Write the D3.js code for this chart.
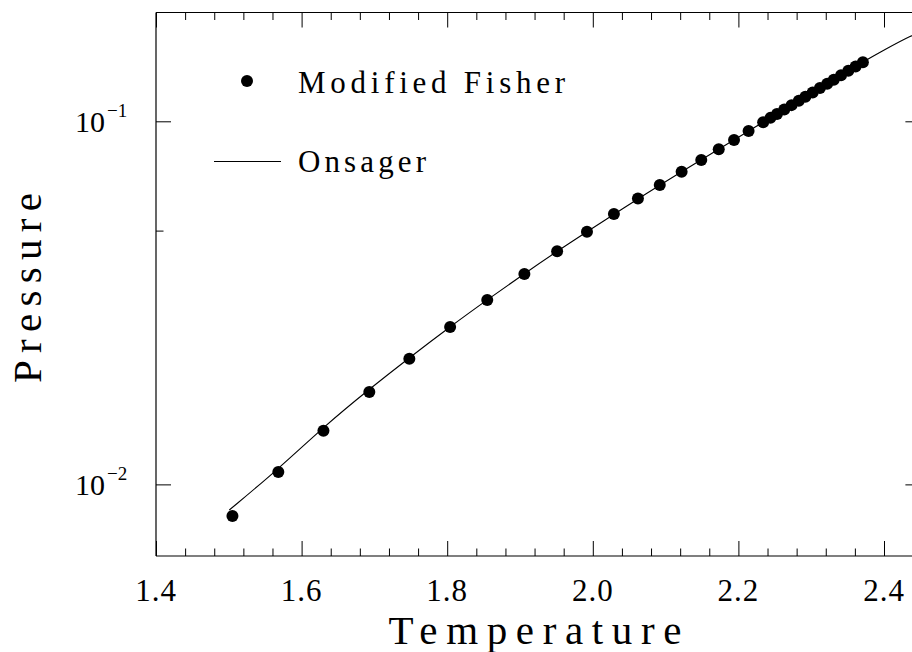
<!DOCTYPE html>
<html>
<head>
<meta charset="utf-8">
<script src="https://cdn.jsdelivr.net/npm/d3@7"></script>
<style>
  html, body { margin: 0; padding: 0; background: #fff; }
  svg { display: block; }
  text { font-family: "Liberation Serif", "DejaVu Serif", serif; fill: #000; }
</style>
</head>
<body>
<svg id="chart" width="912" height="652"></svg>
<script>
// Modified Fisher estimates (temperature, pressure)
const fisherT = [1.505, 1.568, 1.630, 1.693, 1.748, 1.804, 1.855, 1.906, 1.951, 1.992,
  2.029, 2.062, 2.092, 2.122, 2.149, 2.173, 2.194, 2.214,
  2.234, 2.244, 2.253, 2.263, 2.273, 2.283, 2.292, 2.302, 2.312, 2.322,
  2.331, 2.341, 2.351, 2.361, 2.371];
const fisherP = [0.00818, 0.01081, 0.01405, 0.01796, 0.02218, 0.02712, 0.03219, 0.03797, 0.04384, 0.04963,
  0.05555, 0.06127, 0.06676, 0.07263, 0.07818, 0.08373, 0.08882, 0.09403,
  0.0994, 0.1022, 0.1048, 0.1077, 0.1108, 0.1139, 0.1168, 0.1201, 0.1235, 0.1269,
  0.1302, 0.1339, 0.1377, 0.1415, 0.1455];

// Onsager exact curve
const onsagerT = [1.5007, 1.5676, 1.6304, 1.6926, 1.7482, 1.8043, 1.8551, 1.9055, 1.9508, 1.9920,
  2.0621, 2.1218, 2.1727, 2.2140, 2.2530, 2.3020, 2.3510, 2.3707, 2.4000, 2.4385, 2.46];
const onsagerP = [0.00850, 0.01100, 0.01441, 0.01827, 0.02235, 0.02721, 0.03225, 0.03800, 0.04384, 0.04963,
  0.0612, 0.0726, 0.0837, 0.0940, 0.1048, 0.1201, 0.1377, 0.1455, 0.1571, 0.1729, 0.1790];

// Axis ticks and labels
const xMajorTicks = [1.4, 1.6, 1.8, 2.0, 2.2, 2.4];
const xTickLabels = ["1.4", "1.6", "1.8", "2.0", "2.2", "2.4"];
const xMinorTicks = [1.44, 1.48, 1.52, 1.56, 1.64, 1.68, 1.72, 1.76, 1.84, 1.88, 1.92, 1.96,
  2.04, 2.08, 2.12, 2.16, 2.24, 2.28, 2.32, 2.36, 2.44];
const yMajorTicks = [0.01, 0.1];
const yTickExponents = ["\u22122", "\u22121"];
const yMinorTicks = [0.05];

const legendLabels = ["Modified Fisher", "Onsager"];
const xTitle = "Temperature";
const yTitle = "Pressure";

const svg = d3.select("#chart");
const plotLeft = 156, plotRight = 920.4, plotTop = 12, plotBottom = 556;

const x = d3.scaleLinear().domain([1.4, 2.45]).range([plotLeft, plotRight]);
const y = d3.scaleLog().domain([0.00635, 0.2]).range([plotBottom, plotTop]);

// frame
const frame = svg.append("g").attr("stroke", "#000").attr("fill", "none");
frame.append("line").attr("x1", plotLeft).attr("x2", plotLeft).attr("y1", plotTop + 0.5).attr("y2", plotBottom).attr("stroke-width", 1.2);
frame.append("line").attr("x1", plotLeft).attr("x2", plotRight).attr("y1", plotBottom).attr("y2", plotBottom).attr("stroke-width", 1.2);
frame.append("line").attr("x1", plotLeft).attr("x2", plotRight).attr("y1", plotTop + 0.5).attr("y2", plotTop + 0.5);
frame.append("line").attr("x1", plotRight).attr("x2", plotRight).attr("y1", plotTop).attr("y2", plotBottom);

// tick marks via d3 axes (domain paths removed)
function ticks(axis, tr) {
  const g = svg.append("g").attr("transform", tr).call(axis);
  g.select(".domain").remove();
  g.selectAll(".tick line").attr("stroke", "#000").attr("stroke-width", 1);
  g.selectAll(".tick text").remove();
  return g;
}
ticks(d3.axisBottom(x).tickValues(xMajorTicks).tickSize(-15).tickFormat(""), `translate(0,${plotBottom})`);
ticks(d3.axisBottom(x).tickValues(xMinorTicks).tickSize(-7.5).tickFormat(""), `translate(0,${plotBottom})`);
ticks(d3.axisTop(x).tickValues(xMajorTicks).tickSize(-15).tickFormat(""), `translate(0,${plotTop + 0.5})`);
ticks(d3.axisTop(x).tickValues(xMinorTicks).tickSize(-7.5).tickFormat(""), `translate(0,${plotTop + 0.5})`);
ticks(d3.axisLeft(y).tickValues(yMajorTicks).tickSize(-15).tickFormat(""), `translate(${plotLeft},0)`);
ticks(d3.axisLeft(y).tickValues(yMinorTicks).tickSize(-7.5).tickFormat(""), `translate(${plotLeft},0)`);
ticks(d3.axisRight(y).tickValues(yMajorTicks).tickSize(-15).tickFormat(""), `translate(${plotRight},0)`);
ticks(d3.axisRight(y).tickValues(yMinorTicks).tickSize(-7.5).tickFormat(""), `translate(${plotRight},0)`);

// x tick labels
svg.append("g").selectAll("text").data(xMajorTicks).join("text")
  .attr("x", d => x(d))
  .attr("y", 601)
  .attr("text-anchor", "middle")
  .attr("font-size", 31)
  .attr("letter-spacing", 1)
  .text((d, i) => xTickLabels[i]);

// y tick labels: 10 with superscript exponent
const yl = svg.append("g").selectAll("text").data(yMajorTicks).join("text")
  .attr("x", 75)
  .attr("y", d => y(d) + 11)
  .attr("font-size", 30);
yl.append("tspan").text("10");
yl.append("tspan").attr("dx", 2).attr("dy", -15).attr("font-size", 19).text((d, i) => yTickExponents[i]);

// axis titles
svg.append("text")
  .attr("x", 535).attr("y", 644)
  .attr("text-anchor", "middle")
  .attr("font-size", 41)
  .attr("textLength", 293).attr("lengthAdjust", "spacing")
  .text(xTitle);
svg.append("text")
  .attr("transform", "translate(41,288) rotate(-90)")
  .attr("text-anchor", "middle")
  .attr("font-size", 41)
  .attr("textLength", 190).attr("lengthAdjust", "spacing")
  .text(yTitle);

// plot contents clipped to the frame
svg.append("clipPath").attr("id", "plotclip")
  .append("rect").attr("x", plotLeft).attr("y", plotTop).attr("width", plotRight - plotLeft).attr("height", plotBottom - plotTop);
const plot = svg.append("g").attr("clip-path", "url(#plotclip)");

const onsager = onsagerT.map((t, i) => [t, onsagerP[i]]);
plot.append("path")
  .datum(onsager)
  .attr("fill", "none")
  .attr("stroke", "#000")
  .attr("stroke-width", 1.1)
  .attr("d", d3.line().x(d => x(d[0])).y(d => y(d[1])).curve(d3.curveBasis));

const fisher = fisherT.map((t, i) => [t, fisherP[i]]);
plot.append("g").selectAll("circle").data(fisher).join("circle")
  .attr("cx", d => x(d[0]))
  .attr("cy", d => y(d[1]))
  .attr("r", 6)
  .attr("fill", "#000");

// legend
const legend = svg.append("g");
legend.append("circle").attr("cx", 247).attr("cy", 81).attr("r", 6).attr("fill", "#000");
legend.append("line").attr("x1", 214).attr("x2", 281).attr("y1", 161.5).attr("y2", 161.5)
  .attr("stroke", "#000").attr("stroke-width", 1.1);
legend.append("text").attr("x", 298).attr("y", 93).attr("font-size", 31)
  .attr("textLength", 267).attr("lengthAdjust", "spacing").text(legendLabels[0]);
legend.append("text").attr("x", 298).attr("y", 172).attr("font-size", 31)
  .attr("textLength", 128).attr("lengthAdjust", "spacing").text(legendLabels[1]);
</script>
</body>
</html>
